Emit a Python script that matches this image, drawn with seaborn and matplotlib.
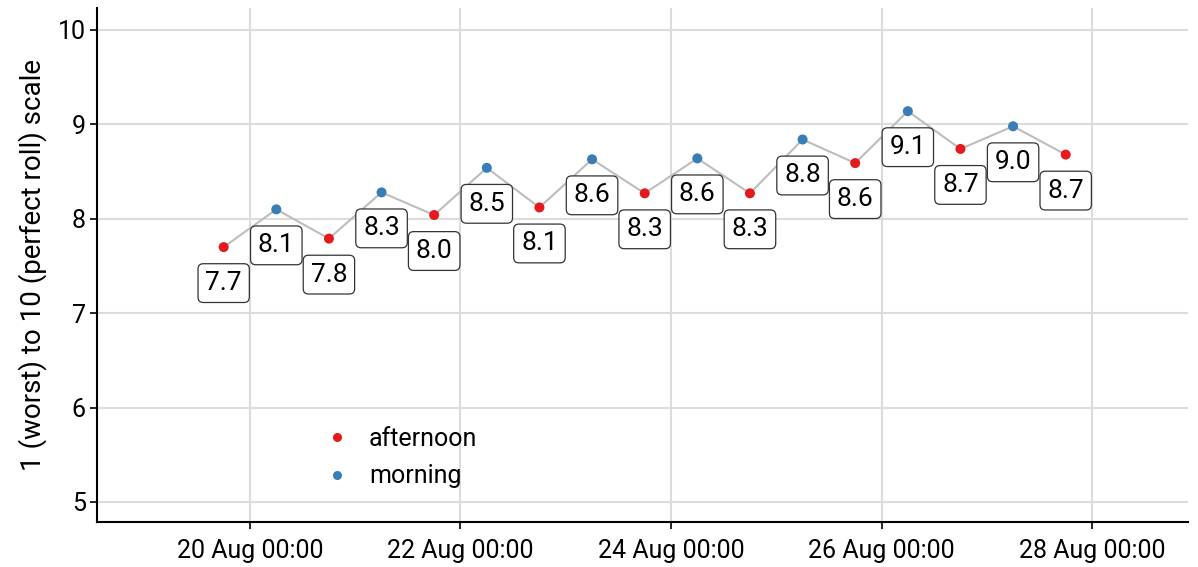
import matplotlib
matplotlib.use("Agg")
import matplotlib.pyplot as plt
import matplotlib.dates as mdates
import seaborn as sns
import pandas as pd
import numpy as np

# ---- data ----
times = ["2023-08-19 18:00", "2023-08-20 06:00", "2023-08-20 18:00", "2023-08-21 06:00",
         "2023-08-21 18:00", "2023-08-22 06:00", "2023-08-22 18:00", "2023-08-23 06:00",
         "2023-08-23 18:00", "2023-08-24 06:00", "2023-08-24 18:00", "2023-08-25 06:00",
         "2023-08-25 18:00", "2023-08-26 06:00", "2023-08-26 18:00", "2023-08-27 06:00",
         "2023-08-27 18:00"]
scores = [7.70, 8.10, 7.79, 8.28, 8.04, 8.54, 8.12, 8.63, 8.27, 8.64, 8.27, 8.84,
          8.59, 9.14, 8.74, 8.98, 8.68]
periods = ["afternoon", "morning"] * 8 + ["afternoon"]
y_ticks = [5, 6, 7, 8, 9, 10]
x_ticks = ["2023-08-20", "2023-08-22", "2023-08-24", "2023-08-26", "2023-08-28"]
y_label = "1 (worst) to 10 (perfect roll) scale"

df = pd.DataFrame({"time": pd.to_datetime(times), "score": scores, "period": periods})

sns.set_style("white")
plt.rcParams["font.family"] = ["Roboto", "DejaVu Sans"]
plt.rcParams["text.color"] = "black"
plt.rcParams["xtick.color"] = "black"
plt.rcParams["ytick.color"] = "black"
plt.rcParams["axes.labelcolor"] = "black"

fig = plt.figure(figsize=(11.98, 5.67), dpi=100)
ax = fig.add_axes([97/1198, 1-522/567, (1188-97)/1198, (522-8)/567])

ax.plot(df["time"], df["score"], color="#bdbdbd", lw=1.5, zorder=2)
sns.scatterplot(data=df, x="time", y="score", hue="period",
                hue_order=["afternoon", "morning"],
                palette={"afternoon": "#E41A1C", "morning": "#377EB8"},
                s=52, edgecolor="none", ax=ax, zorder=3)

for t, v in zip(df["time"], df["score"]):
    ax.annotate(f"{v:.1f}", xy=(t, v), xytext=(0, -36), textcoords="offset pixels",
                ha="center", va="center", fontsize=19, color="black", zorder=5,
                bbox=dict(boxstyle="round,pad=0.28,rounding_size=0.2", fc="white",
                          ec="#333333", lw=0.9))

ax.set_xlim(pd.Timestamp("2023-08-18 13:07"), pd.Timestamp("2023-08-28 21:53"))
ax.set_ylim(4.788, 10.233)
ax.set_yticks(y_ticks)
ax.set_xticks(pd.to_datetime(x_ticks))
ax.xaxis.set_major_formatter(mdates.DateFormatter("%d %b %H:%M"))
ax.tick_params(axis="both", labelsize=18, length=5, width=1.2, colors="black",
               direction="out", pad=3, left=True, bottom=True)
ax.tick_params(axis="x", pad=7)
ax.grid(True, color="#dcdcdc", lw=1.5, zorder=0)
ax.set_axisbelow(True)
for s in ["top", "right"]:
    ax.spines[s].set_visible(False)
for s in ["left", "bottom"]:
    ax.spines[s].set_color("black")
    ax.spines[s].set_linewidth(1.5)
ax.set_xlabel("")
ax.set_ylabel(y_label, fontsize=20, labelpad=8)

leg = ax.legend(title=None, frameon=False, loc="upper left",
                bbox_to_anchor=(0.199, 0.205), fontsize=18, handlelength=1.0,
                handletextpad=0.8, labelspacing=0.55, markerscale=0.9,
                borderaxespad=0)

fig.savefig("out.png", dpi=100)
